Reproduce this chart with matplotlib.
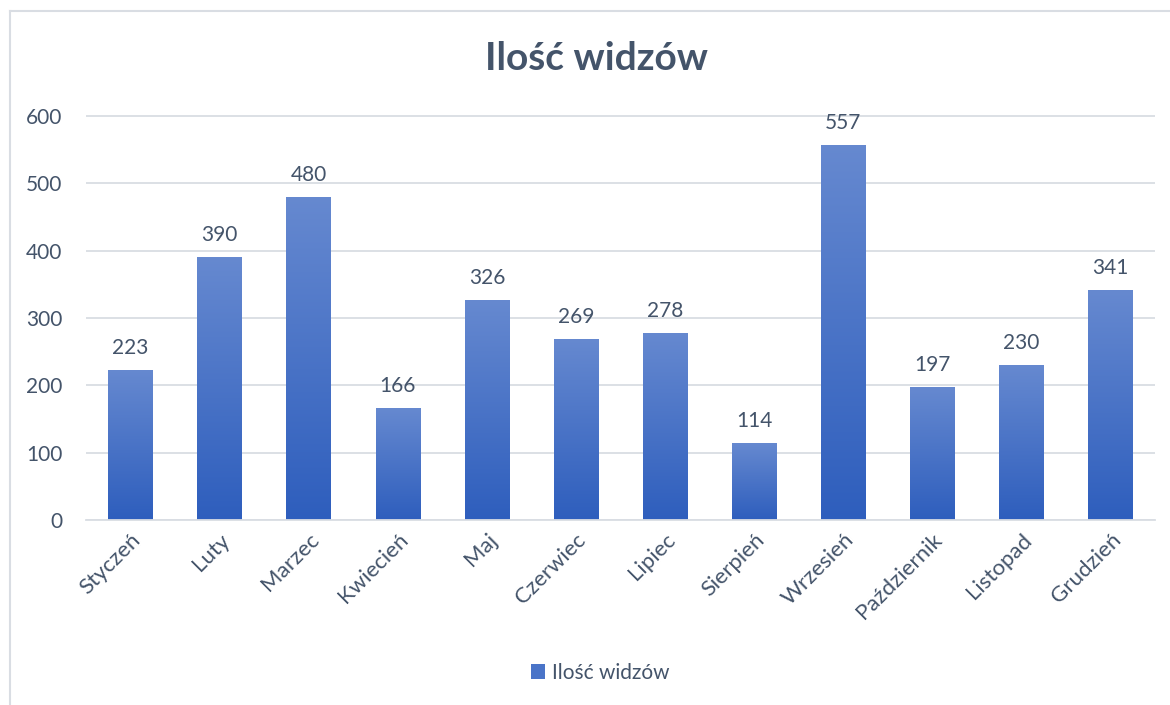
import numpy as np
import matplotlib.pyplot as plt
from matplotlib.colors import LinearSegmentedColormap
from matplotlib.patches import Rectangle
from matplotlib.lines import Line2D

months = ["Styczeń", "Luty", "Marzec", "Kwiecień", "Maj", "Czerwiec",
          "Lipiec", "Sierpień", "Wrzesień", "Październik", "Listopad", "Grudzień"]
viewers = [223, 390, 480, 166, 326, 269, 278, 114, 557, 197, 230, 341]

text_color = "#44546A"
grid_color = "#D9DDE3"
plt.rcParams["font.family"] = ["Lato", "DejaVu Sans"]

fig = plt.figure(figsize=(11.7, 7.05), dpi=100)
ax = fig.add_axes([86 / 1170, 1 - 520 / 705, (1155 - 86) / 1170, (520 - 116) / 705 * 700 / 600])

# outer chart border (clipped at right/bottom like the reference)
fig.add_artist(Line2D([10 / 1170, 10 / 1170], [0, 1 - 11 / 705], transform=fig.transFigure,
                      color=grid_color, lw=1.5))
fig.add_artist(Line2D([10 / 1170, 1], [1 - 11 / 705, 1 - 11 / 705], transform=fig.transFigure,
                      color=grid_color, lw=1.5))

cmap = LinearSegmentedColormap.from_list("bar", ["#2E5EBD", "#6689D0"])
grad = np.linspace(0, 1, 256).reshape(-1, 1)
x = np.arange(len(months))
width = 0.5
for xi, v in zip(x, viewers):
    rect = Rectangle((xi - width / 2, 0), width, v, facecolor="none", edgecolor="none")
    ax.add_patch(rect)
    im = ax.imshow(grad, cmap=cmap, extent=(xi - width / 2, xi + width / 2, 0, v),
                   origin="lower", aspect="auto", zorder=2)
    im.set_clip_path(rect)
    ax.text(xi, v + 18, str(v), ha="center", va="bottom", fontsize=15, color=text_color)

ax.set_xlim(-0.5, len(months) - 0.5)
ax.set_ylim(0, 700)
ax.set_yticks(range(0, 700, 100))
ax.yaxis.grid(True, color=grid_color, lw=1.3)
ax.set_axisbelow(True)
for s in ["top", "right", "left"]:
    ax.spines[s].set_visible(False)
ax.spines["bottom"].set_color(grid_color)
ax.spines["bottom"].set_linewidth(1.3)
ax.tick_params(axis="both", length=0, labelsize=15, colors=text_color)
ax.tick_params(axis="y", pad=17)
ax.set_xticks(x)
ax.set_xticklabels(months, rotation=45, ha="right", rotation_mode="anchor", fontsize=16)
ax.tick_params(axis="x", pad=7)

fig.text(0.51, 1 - 58 / 705, "Ilość widzów", ha="center", va="center",
         fontsize=28, fontweight="bold", color=text_color)

handle = Rectangle((0, 0), 1, 1, facecolor="#4A74C8")
fig.legend([handle], ["Ilość widzów"], loc="center", bbox_to_anchor=(0.513, 1 - 673 / 705),
           frameon=False, fontsize=15, labelcolor=text_color, handlelength=0.7,
           handleheight=0.7, handletextpad=0.35)

fig.savefig("out.png", dpi=100)
